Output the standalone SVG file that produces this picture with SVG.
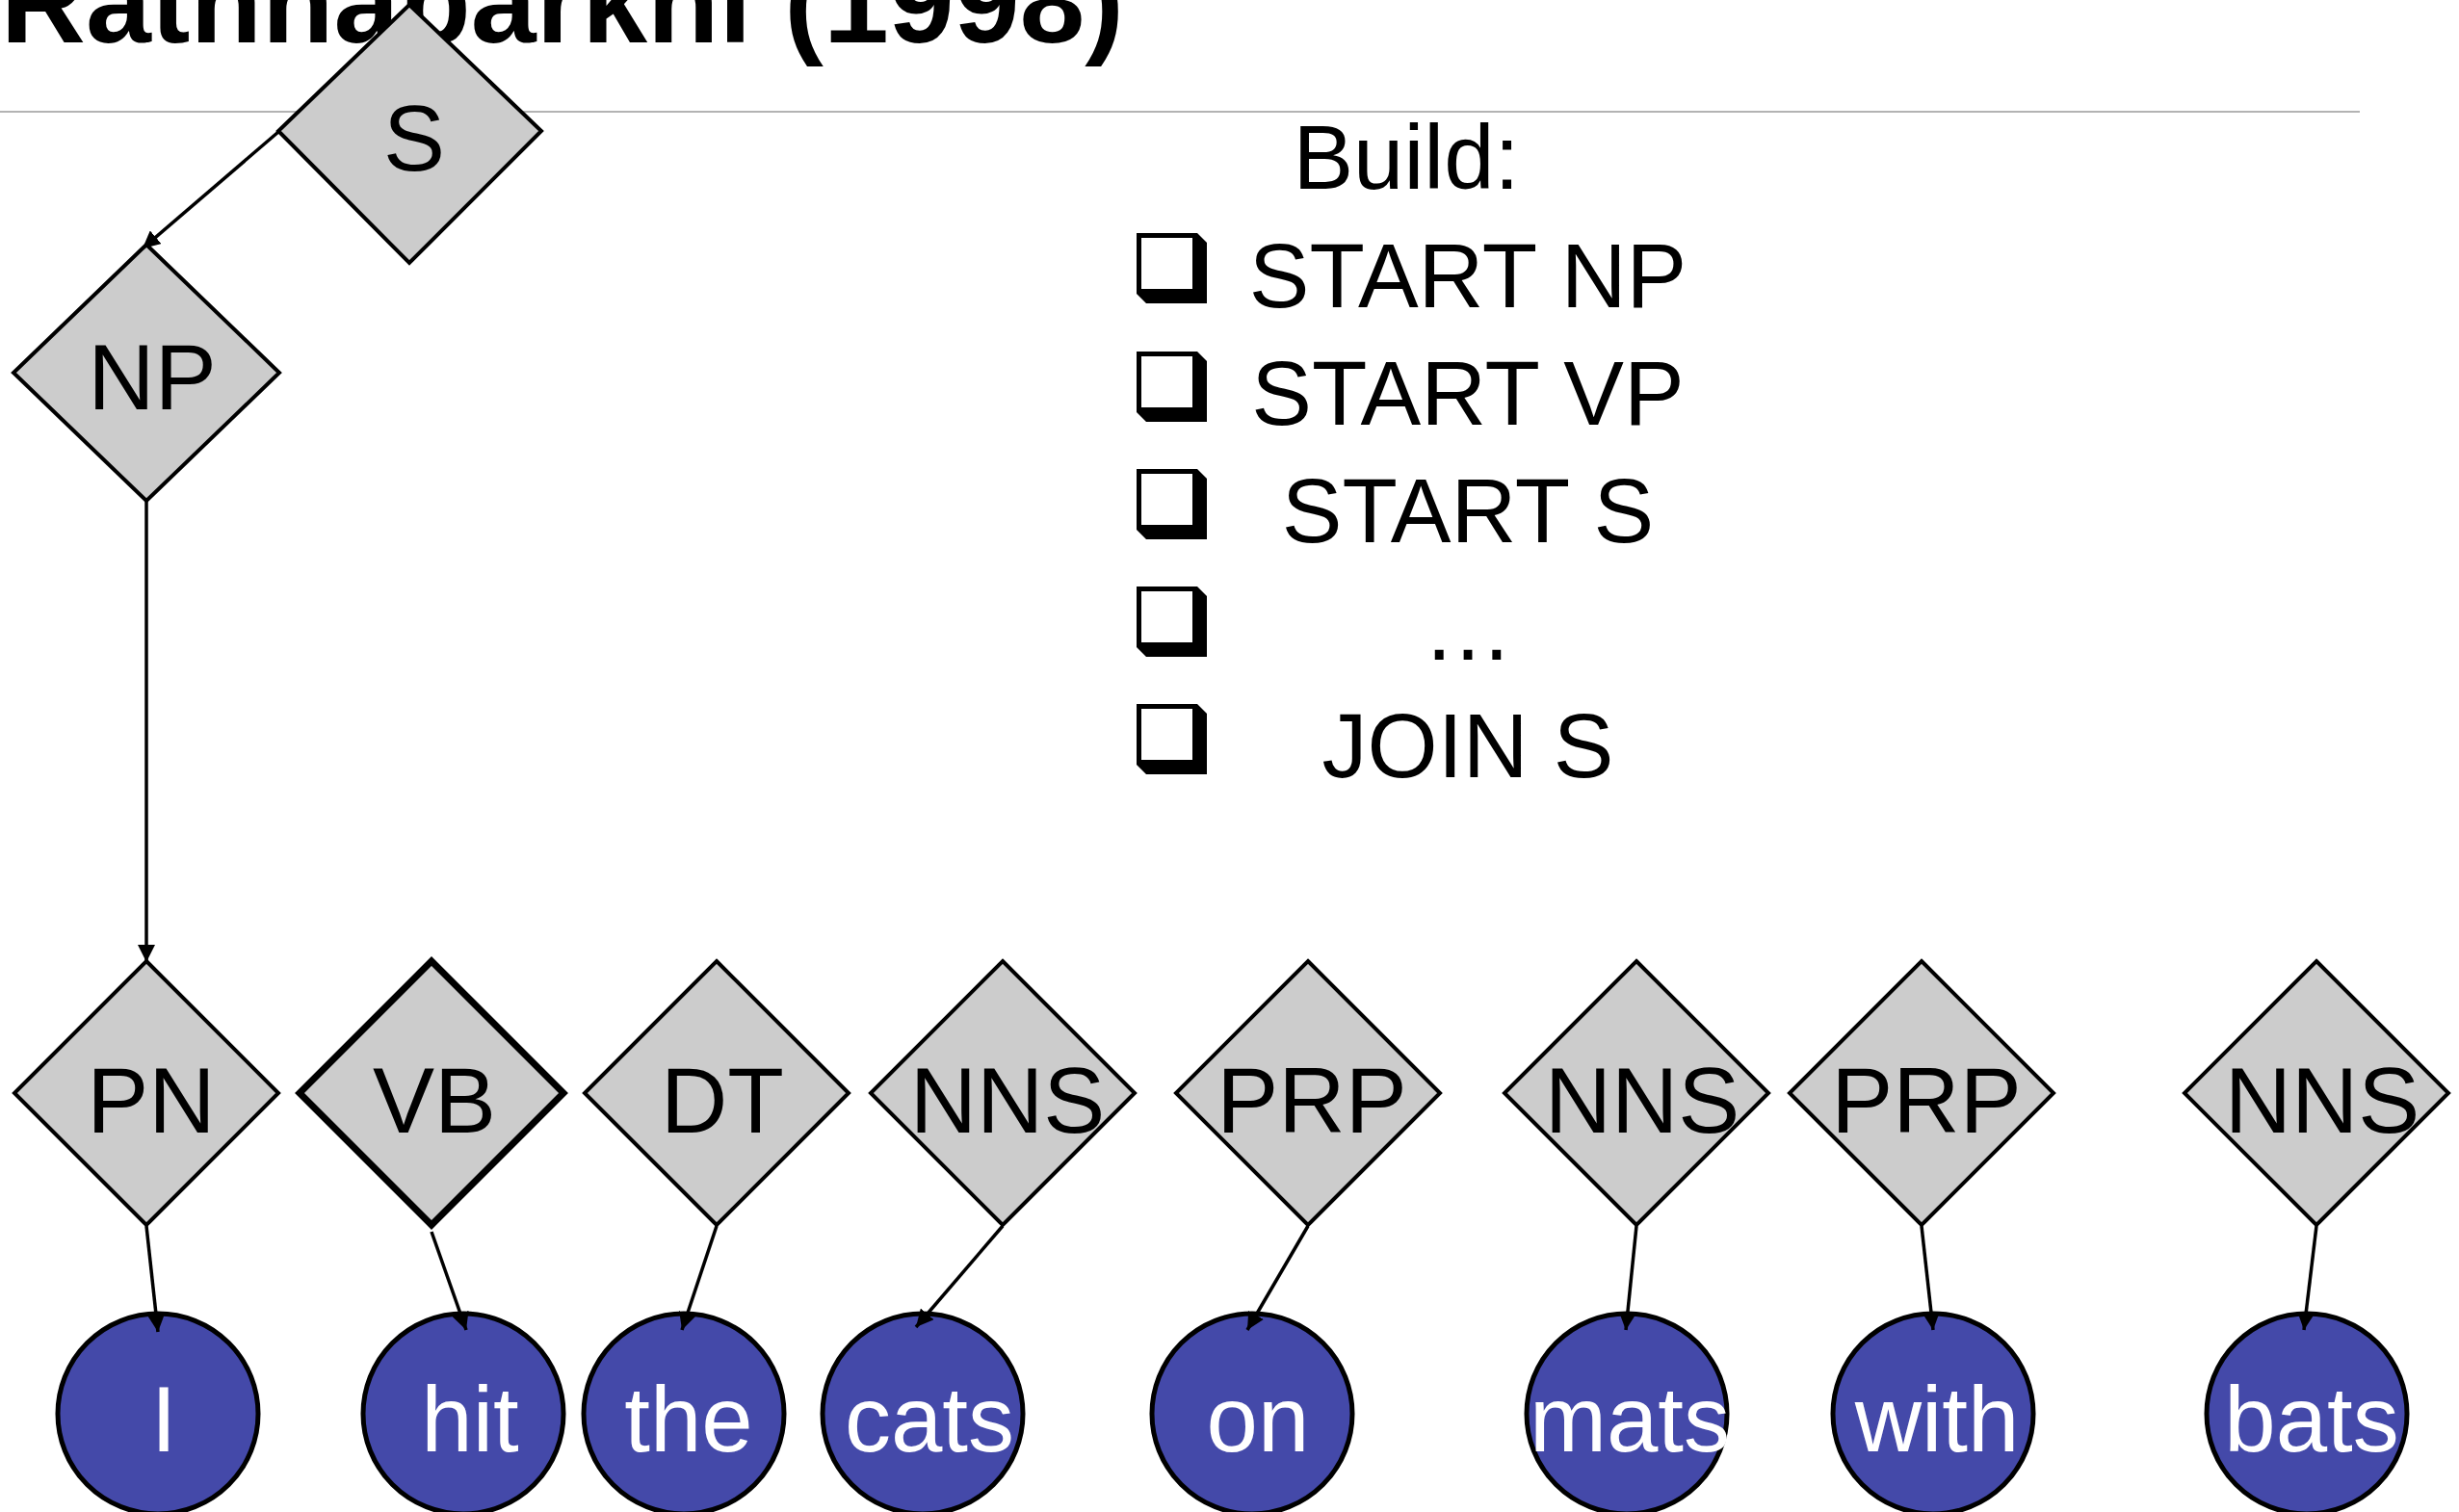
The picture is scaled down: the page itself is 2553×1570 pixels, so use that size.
<svg xmlns="http://www.w3.org/2000/svg" width="2553" height="1570" viewBox="0 0 2553 1570">
  <style>
    .title { font-family: "Liberation Sans", Arial, sans-serif; font-weight: bold; font-size: 122px; fill: #000; }
    .tag { fill: #cccccc; stroke: #000; stroke-width: 4; stroke-linejoin: miter; }
    .tag-thick { stroke-width: 7; }
    .tag-label { font-family: "Liberation Sans", Arial, sans-serif; font-size: 96px; fill: #000; text-anchor: middle; }
    .word { fill: #4449a9; stroke: #000; stroke-width: 5; }
    .word-label { font-family: "Liberation Sans", Arial, sans-serif; font-size: 96px; fill: #fff; text-anchor: middle; }
    .edge { stroke: #000; stroke-width: 3.5; fill: none; marker-end: url(#arrow); }
    .rule { stroke: #b3b3b3; stroke-width: 2; }
    .build { font-family: "Liberation Sans", Arial, sans-serif; font-size: 94px; fill: #000; text-anchor: middle; }
  </style>
  <defs>
    <marker id="arrow" markerUnits="userSpaceOnUse" markerWidth="18" markerHeight="18" refX="18" refY="9" orient="auto">
      <path d="M0,0 L18,9 L0,18 Z" fill="#000"/>
    </marker>
    <g id="checkbox">
      <path d="M0,0 H63 L73,10 V73 H10 L0,63 Z" fill="#000"/>
      <rect x="5" y="5" width="53" height="53" fill="#fff"/>
    </g>
  </defs>
  <rect width="2553" height="1570" fill="#fff"/>

  <text class="title" x="1167" y="44" text-anchor="end">Rathnaparkhi (1998)</text>
  <line class="rule" x1="0" y1="116" x2="2450" y2="116"/>

  <g id="build-list">
    <text class="build" x="1460" y="196">Build:</text>
    <use href="#checkbox" x="1180" y="242"/>
    <text class="build" x="1524" y="319">START NP</text>
    <use href="#checkbox" x="1180" y="365"/>
    <text class="build" x="1524" y="441">START VP</text>
    <use href="#checkbox" x="1180" y="487"/>
    <text class="build" x="1524" y="563">START S</text>
    <use href="#checkbox" x="1180" y="609"/>
    <text class="build" x="1524" y="685">…</text>
    <use href="#checkbox" x="1180" y="731"/>
    <text class="build" x="1524" y="807">JOIN S</text>
  </g>

  <g id="node-S">
    <polygon class="tag" points="425,5 562,136 425,273 289,136"/>
    <text class="tag-label" x="430" y="177">S</text>
  </g>
  <g id="node-NP">
    <polygon class="tag" points="152,254 290,387 152,520 14,387"/>
    <text class="tag-label" x="158" y="425">NP</text>
  </g>

  <g id="node-PN">
    <polygon class="tag" points="152,998 289,1135 152,1272 15,1135"/>
    <text class="tag-label" x="157" y="1176">PN</text>
  </g>
  <g id="node-VB">
    <polygon class="tag tag-thick" points="448,998 585,1135 448,1272 311,1135"/>
    <text class="tag-label" x="451" y="1176">VB</text>
  </g>
  <g id="node-DT">
    <polygon class="tag" points="744,998 881,1135 744,1272 607,1135"/>
    <text class="tag-label" x="750" y="1176">DT</text>
  </g>
  <g id="node-NNS1">
    <polygon class="tag" points="1041,998 1178,1135 1041,1272 904,1135"/>
    <text class="tag-label" x="1046" y="1176">NNS</text>
  </g>
  <g id="node-PRP1">
    <polygon class="tag" points="1358,998 1495,1135 1358,1272 1221,1135"/>
    <text class="tag-label" x="1362" y="1176">PRP</text>
  </g>
  <g id="node-NNS2">
    <polygon class="tag" points="1699,998 1836,1135 1699,1272 1562,1135"/>
    <text class="tag-label" x="1705" y="1176">NNS</text>
  </g>
  <g id="node-PRP2">
    <polygon class="tag" points="1995,998 2132,1135 1995,1272 1858,1135"/>
    <text class="tag-label" x="2000" y="1176">PRP</text>
  </g>
  <g id="node-NNS3">
    <polygon class="tag" points="2405,998 2542,1135 2405,1272 2268,1135"/>
    <text class="tag-label" x="2411" y="1176">NNS</text>
  </g>

  <g id="word-I">
    <circle class="word" cx="164" cy="1468" r="104"/>
    <text class="word-label" x="170" y="1507">I</text>
  </g>
  <g id="word-hit">
    <circle class="word" cx="481" cy="1468" r="104"/>
    <text class="word-label" x="488" y="1507">hit</text>
  </g>
  <g id="word-the">
    <circle class="word" cx="710" cy="1468" r="104"/>
    <text class="word-label" x="715" y="1507">the</text>
  </g>
  <g id="word-cats">
    <circle class="word" cx="958" cy="1468" r="104"/>
    <text class="word-label" x="965" y="1507">cats</text>
  </g>
  <g id="word-on">
    <circle class="word" cx="1300" cy="1468" r="104"/>
    <text class="word-label" x="1306" y="1507">on</text>
  </g>
  <g id="word-mats">
    <circle class="word" cx="1689" cy="1468" r="104"/>
    <text class="word-label" x="1692" y="1507">mats</text>
  </g>
  <g id="word-with">
    <circle class="word" cx="2007" cy="1468" r="104"/>
    <text class="word-label" x="2011" y="1507">with</text>
  </g>
  <g id="word-bats">
    <circle class="word" cx="2395" cy="1468" r="104"/>
    <text class="word-label" x="2400" y="1507">bats</text>
  </g>

  <g id="connectors">
    <line class="edge" x1="289" y1="137" x2="148" y2="258"/>
    <line class="edge" x1="152" y1="521" x2="152" y2="999"/>
    <line class="edge" x1="152" y1="1273" x2="164" y2="1383"/>
    <line class="edge" x1="448" y1="1279" x2="484" y2="1381"/>
    <line class="edge" x1="744" y1="1273" x2="708" y2="1381"/>
    <line class="edge" x1="1041" y1="1273" x2="951" y2="1378"/>
    <line class="edge" x1="1358" y1="1273" x2="1295" y2="1381"/>
    <line class="edge" x1="1699" y1="1273" x2="1688" y2="1381"/>
    <line class="edge" x1="1995" y1="1273" x2="2007" y2="1381"/>
    <line class="edge" x1="2405" y1="1273" x2="2392" y2="1381"/>
  </g>
</svg>
